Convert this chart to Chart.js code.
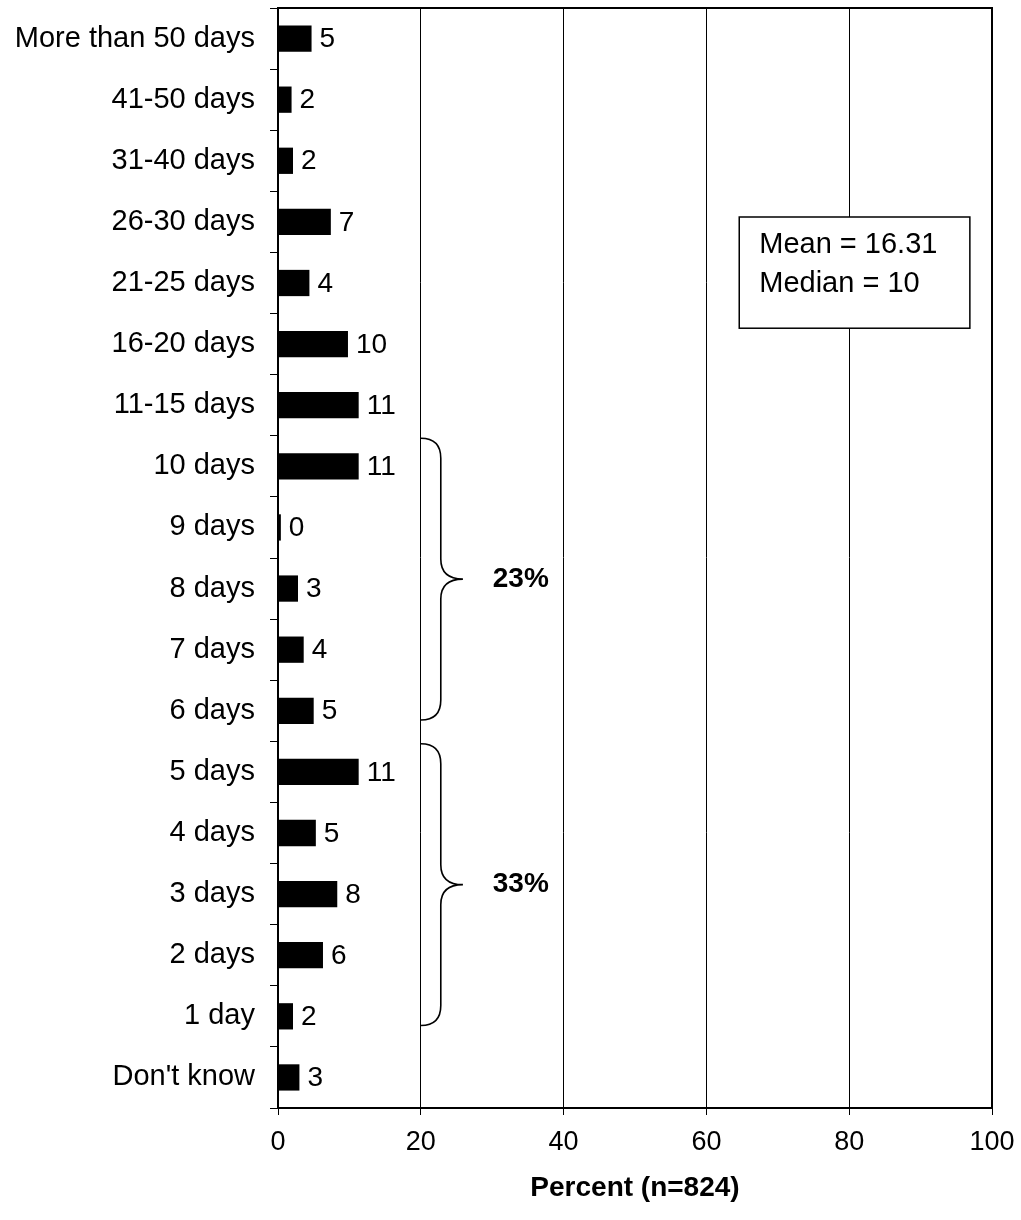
<!DOCTYPE html>
<html>
<head>
<meta charset="utf-8">
<script src="https://cdn.jsdelivr.net/npm/chart.js@4/dist/chart.umd.min.js"></script>
<style>
  html, body { margin: 0; padding: 0; background: #fff; }
  #wrap { width: 1021px; height: 1220px; }
</style>
</head>
<body>
<div id="wrap"><canvas id="grafico"></canvas></div>
<script>
// ===============================
// DATA
// ===============================
const categorias = [
  "More than 50 days", "41-50 days", "31-40 days", "26-30 days", "21-25 days",
  "16-20 days", "11-15 days", "10 days", "9 days", "8 days", "7 days",
  "6 days", "5 days", "4 days", "3 days", "2 days", "1 day", "Don't know"
];
const porcentajes = [4.7, 1.9, 2.1, 7.4, 4.4, 9.8, 11.3, 11.3, 0.4, 2.8, 3.6, 5.0, 11.3, 5.3, 8.3, 6.3, 2.1, 3.0];
const etiquetas = ["5", "2", "2", "7", "4", "10", "11", "11", "0", "3", "4", "5", "11", "5", "8", "6", "2", "3"];
const ticksX = [0, 20, 40, 60, 80, 100];

// brackets: from category, to category, label
const llaves = [
  { desde: "10 days", hasta: "6 days", texto: "23%" },
  { desde: "5 days", hasta: "1 day", texto: "33%" }
];
const resumen = ["Mean = 16.31", "Median = 10"];

const FUENTE = "'Liberation Sans', Arial, sans-serif";

// ===============================
// PLUGINS
// ===============================
const marco = {
  id: "marco",
  afterDatasetsDraw(chart) {
    const { ctx, chartArea: a } = chart;
    ctx.save();
    ctx.strokeStyle = "#000";
    ctx.lineWidth = 2;
    ctx.strokeRect(a.left, a.top, a.right - a.left, a.bottom - a.top);
    ctx.restore();
  }
};

const valores = {
  id: "valores",
  afterDatasetsDraw(chart) {
    const { ctx } = chart;
    const meta = chart.getDatasetMeta(0);
    ctx.save();
    ctx.fillStyle = "#000";
    ctx.font = "28px " + FUENTE;
    ctx.textBaseline = "middle";
    ctx.textAlign = "left";
    meta.data.forEach((bar, i) => {
      ctx.fillText(etiquetas[i], bar.x + 8, bar.y + 1);
    });
    ctx.restore();
  }
};

const anotaciones = {
  id: "anotaciones",
  afterDraw(chart) {
    const { ctx } = chart;
    const x = chart.scales.x;
    const y = chart.scales.y;
    ctx.save();
    ctx.strokeStyle = "#000";
    ctx.lineWidth = 1.6;

    llaves.forEach(l => {
      const i0 = categorias.indexOf(l.desde);
      const i1 = categorias.indexOf(l.hasta);
      const yTop = y.getPixelForValue(i0 - 0.46);
      const yBot = y.getPixelForValue(i1 + 0.15);
      const yMid = (yTop + yBot) / 2;
      const x0 = x.getPixelForValue(20);
      const x1 = x.getPixelForValue(22.8);
      const x2 = x.getPixelForValue(25.9);
      const r = 20;

      ctx.beginPath();
      ctx.moveTo(x0, yTop);
      ctx.quadraticCurveTo(x1, yTop, x1, yTop + r);
      ctx.lineTo(x1, yMid - r);
      ctx.quadraticCurveTo(x1, yMid, x2, yMid);
      ctx.quadraticCurveTo(x1, yMid, x1, yMid + r);
      ctx.lineTo(x1, yBot - r);
      ctx.quadraticCurveTo(x1, yBot, x0, yBot);
      ctx.stroke();

      ctx.fillStyle = "#000";
      ctx.font = "bold 28px " + FUENTE;
      ctx.textAlign = "center";
      ctx.textBaseline = "middle";
      ctx.fillText(l.texto, x.getPixelForValue(34), yMid);
    });

    // mean / median box
    const bx0 = x.getPixelForValue(64.6);
    const bx1 = x.getPixelForValue(96.9);
    const by0 = y.getPixelForValue(2.92);
    const by1 = y.getPixelForValue(4.74);
    ctx.fillStyle = "#fff";
    ctx.fillRect(bx0, by0, bx1 - bx0, by1 - by0);
    ctx.lineWidth = 1.5;
    ctx.strokeRect(bx0, by0, bx1 - bx0, by1 - by0);
    ctx.fillStyle = "#000";
    ctx.font = "29px " + FUENTE;
    ctx.textAlign = "left";
    ctx.textBaseline = "middle";
    resumen.forEach((t, i) => {
      ctx.fillText(t, bx0 + 20, by0 + 28 + i * 39);
    });
    ctx.restore();
  }
};

// ===============================
// GRÁFICO
// ===============================
new Chart(document.getElementById("grafico"), {
  type: "bar",
  data: {
    labels: categorias,
    datasets: [{
      data: porcentajes,
      backgroundColor: "#000",
      borderWidth: 0,
      barPercentage: 0.43,
      categoryPercentage: 1
    }]
  },
  options: {
    indexAxis: "y",
    responsive: true,
    maintainAspectRatio: false,
    animation: false,
    layout: { padding: { top: 8, right: 29, left: 0, bottom: 0 } },
    plugins: {
      legend: { display: false },
      tooltip: { enabled: false }
    },
    scales: {
      x: {
        min: 0,
        max: 100,
        afterBuildTicks: s => { s.ticks = ticksX.map(v => ({ value: v })); },
        afterFit: s => { s.height = 112; s.paddingLeft = 0; s.paddingRight = 0; },
        grid: {
          color: "#000",
          lineWidth: 1,
          drawTicks: true,
          tickLength: 7,
          tickColor: "#000"
        },
        border: { display: true, color: "#000", width: 2 },
        ticks: {
          color: "#000",
          font: { family: FUENTE, size: 27 },
          padding: 11,
          maxRotation: 0
        },
        title: {
          display: true,
          text: "Percent (n=824)",
          color: "#000",
          font: { family: FUENTE, size: 28, weight: "bold" },
          padding: { top: 12, bottom: 15 }
        }
      },
      y: {
        afterFit: s => { s.width = 278; s.paddingTop = 0; s.paddingBottom = 0; },
        grid: {
          offset: true,
          drawOnChartArea: false,
          drawTicks: true,
          tickLength: 8,
          tickColor: "#000",
          lineWidth: 1
        },
        border: { display: true, color: "#000", width: 2 },
        ticks: {
          color: "#000",
          font: { family: FUENTE, size: 29 },
          padding: 15,
          autoSkip: false
        }
      }
    }
  },
  plugins: [marco, valores, anotaciones]
});
</script>
</body>
</html>
